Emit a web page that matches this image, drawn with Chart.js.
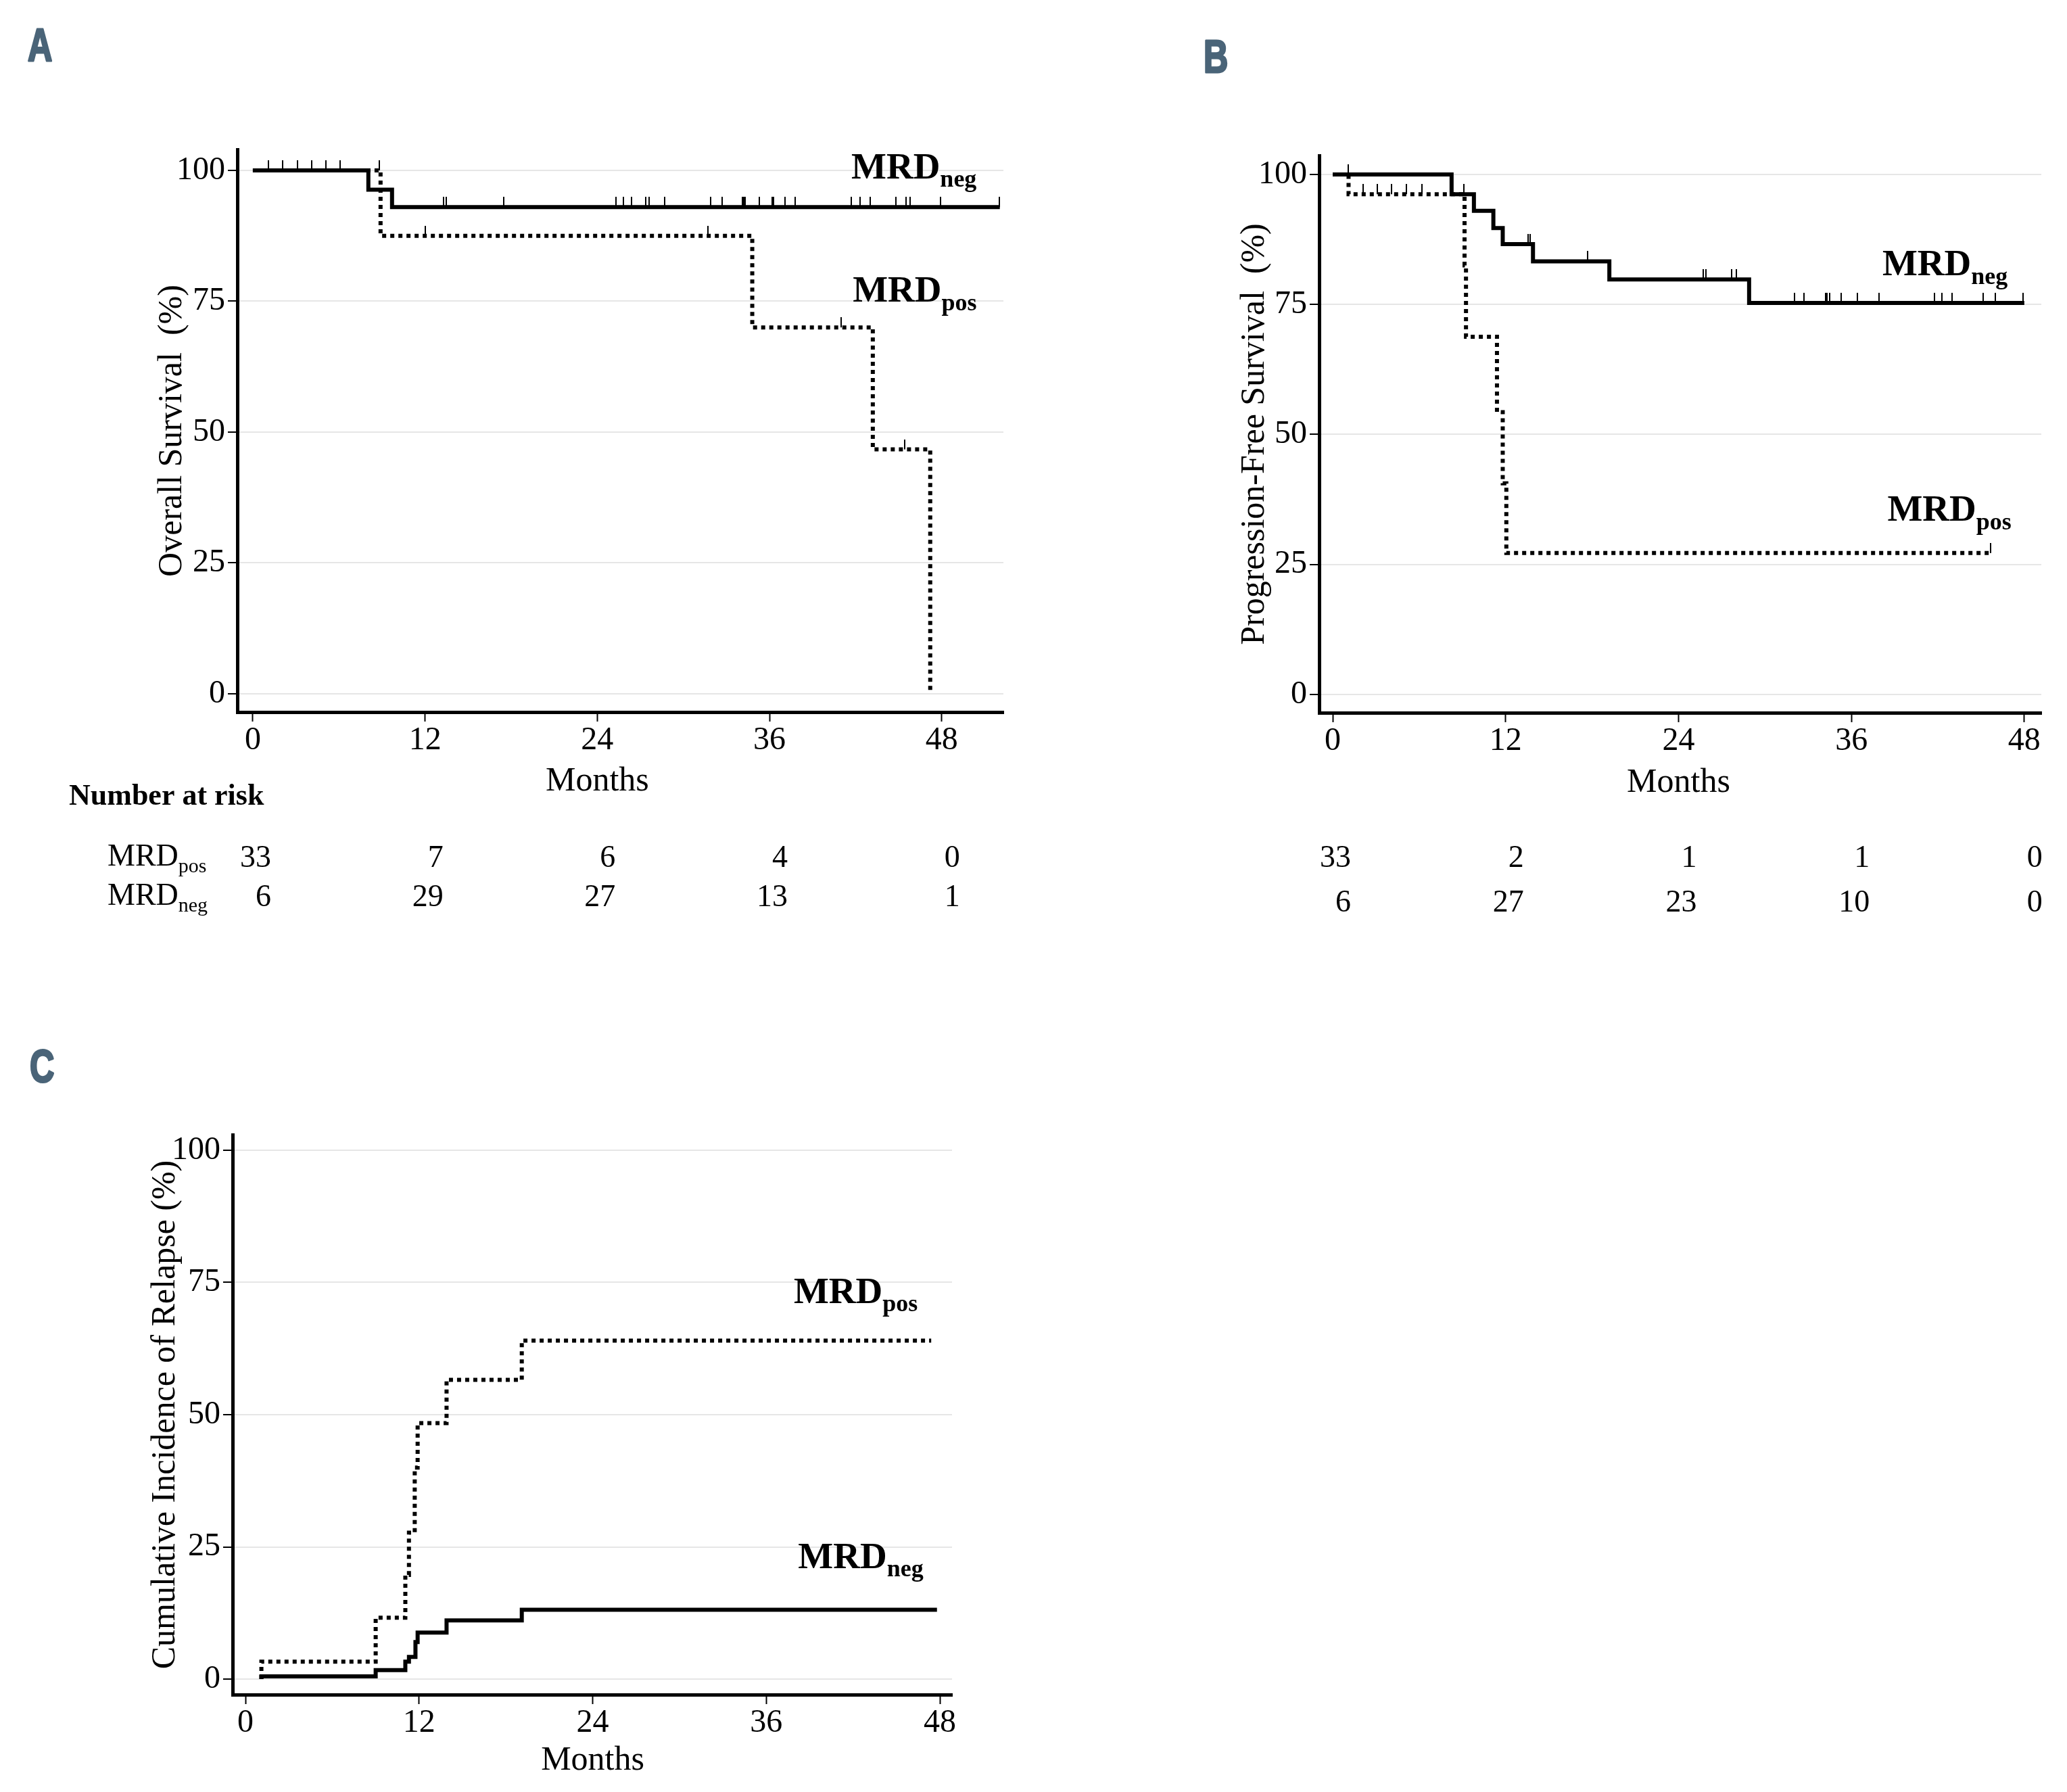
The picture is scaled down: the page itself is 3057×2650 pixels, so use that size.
<!DOCTYPE html>
<html>
<head>
<meta charset="utf-8">
<script src="https://cdn.jsdelivr.net/npm/chart.js@4.4.1/dist/chart.umd.min.js"></script>
<style>
  html, body { margin: 0; padding: 0; background: #fff; }
  body { width: 3057px; height: 2650px; position: relative; overflow: hidden; }
  canvas { position: absolute; }
</style>
</head>
<body>
<canvas id="chartA" width="1540" height="1420" style="left:0;top:0;width:1540px;height:1420px"></canvas>
<canvas id="chartB" width="1517" height="1420" style="left:1540px;top:0;width:1517px;height:1420px"></canvas>
<canvas id="chartC" width="1540" height="1170" style="left:0;top:1480px;width:1540px;height:1170px"></canvas>
<script>
// ---------- data ----------
const xTicks = [0, 12, 24, 36, 48];
const yTicks = [0, 25, 50, 75, 100];

// A: overall survival
const osNegTime = [0, 8.05, 9.7, 52.05];
const osNegPct = [100, 96.3, 93.0, 93.0];
const osNegCensor = [1.1, 2.1, 3.1, 4.1, 5.1, 6.1, 13.3, 13.5, 17.5, 25.3, 25.8, 26.4, 27.4, 27.6, 28.7,
  31.9, 32.7, 34.1, 34.2, 34.3, 35.3, 36.2, 36.3, 37.1, 37.8, 41.7, 42.3, 43.0, 44.8, 45.5, 45.8, 47.9, 52.0];
const osPosTime = [0, 8.9, 34.8, 43.2, 47.2];
const osPosPct = [100, 87.5, 70.0, 46.7, 0];
const osPosCensor = [8.8, 12.0, 31.7, 41.0, 45.4];
const osRiskPos = [33, 7, 6, 4, 0];
const osRiskNeg = [6, 29, 27, 13, 1];

// B: progression-free survival
const pfsNegTime = [0, 8.25, 9.8, 11.15, 11.8, 13.9, 19.2, 28.9, 48];
const pfsNegPct = [100, 96.2, 93.0, 89.7, 86.6, 83.3, 79.8, 75.3, 75.3];
const pfsNegCensor = [1.1, 13.55, 13.7, 17.7, 25.7, 25.9, 27.7, 28.0, 32.05, 32.7, 34.2, 34.3, 34.5,
  35.3, 36.4, 37.9, 41.75, 42.3, 43.0, 45.15, 45.97, 47.9];
const pfsPosTime = [0, 1.1, 9.15, 9.25, 11.4, 11.8, 12.05, 45.65];
const pfsPosPct = [100, 96.2, 82.5, 68.8, 54.3, 40.6, 27.2, 27.2];
const pfsPosCensor = [2.1, 3.1, 4.1, 5.1, 6.2, 9.1, 45.65];
const pfsRiskPos = [33, 2, 1, 1, 0];
const pfsRiskNeg = [6, 27, 23, 10, 0];

// C: cumulative incidence of relapse
const cirNegTime = [1.1, 1.1, 9.0, 11.05, 11.3, 11.75, 11.9, 13.9, 19.1, 47.8];
const cirNegPct = [0, 0.5, 1.7, 3.3, 4.2, 7.0, 8.8, 11.1, 13.1, 13.1];
const cirPosTime = [1.1, 1.1, 9.0, 11.05, 11.3, 11.7, 11.9, 13.9, 19.1, 47.4];
const cirPosPct = [0, 3.3, 11.6, 19.7, 27.7, 40.0, 48.4, 56.6, 64.0, 64.0];

// ---------- helpers ----------
const SERIF = "'Liberation Serif', 'Times New Roman', Times, serif";

function toPoints(times, pcts) {
  return times.map((t, i) => ({ x: t, y: pcts[i] }));
}

// level of a step curve at time t (used to sit censor marks on the curve)
function levelAt(times, pcts, t) {
  let v = pcts[0];
  times.forEach((tt, i) => { if (tt <= t) v = pcts[i]; });
  return v;
}

function censorPoints(censor, times, pcts) {
  return censor.map(t => ({ x: t, y: levelAt(times, pcts, t) }));
}

// small upward tick used as point style for censored observations
const tickMark = document.createElement('canvas');
tickMark.width = 2;
tickMark.height = 30;
const tctx = tickMark.getContext('2d');
tctx.fillStyle = '#000';
tctx.fillRect(0, 0, 2, 15);

function drawSub(ctx, main, sub, left, base, size, subSize, shift, bold) {
  const w8 = bold ? 'bold ' : '';
  ctx.textAlign = 'left';
  ctx.textBaseline = 'alphabetic';
  ctx.font = `${w8}${size}px ${SERIF}`;
  ctx.fillText(main, left, base);
  const w = ctx.measureText(main).width;
  ctx.font = `${w8}${subSize}px ${SERIF}`;
  ctx.fillText(sub, left + w, base + shift);
}

function decorPlugin(cfg) {
  return {
    id: 'decor' + cfg.letter,
    afterDraw(chart) {
      const { ctx, scales: { x, y } } = chart;
      ctx.save();

      // panel letter (condensed heavy sans)
      ctx.save();
      ctx.fillStyle = '#4a6478';
      ctx.strokeStyle = '#4a6478';
      ctx.lineWidth = 3;
      ctx.lineJoin = 'round';
      ctx.font = "bold 68px 'Liberation Sans', Arial, sans-serif";
      ctx.textBaseline = 'alphabetic';
      ctx.translate(cfg.letterX, cfg.letterY);
      ctx.scale(0.74, 1);
      ctx.fillText(cfg.letter, 0, 0);
      ctx.strokeText(cfg.letter, 0, 0);
      ctx.restore();

      // x axis title, centred on the 24-month tick
      ctx.fillStyle = '#000';
      ctx.font = `50px ${SERIF}`;
      ctx.textAlign = 'center';
      ctx.textBaseline = 'middle';
      ctx.fillText('Months', x.getPixelForValue(24), cfg.monthsY);

      // curve labels
      cfg.labels.forEach(l => {
        drawSub(ctx, 'MRD', l.sub, x.getPixelForValue(l.x), y.getPixelForValue(l.y), 55, 36, 12.5, true);
      });

      // number at risk table
      if (cfg.risk) {
        const r = cfg.risk;
        if (r.header) {
          ctx.textAlign = 'left';
          ctx.textBaseline = 'alphabetic';
          ctx.font = `bold 44px ${SERIF}`;
          ctx.fillText('Number at risk', 102, r.headerY);
          drawSub(ctx, 'MRD', 'pos', 159, r.rowY[0] - 2, 46, 30, 10, false);
          drawSub(ctx, 'MRD', 'neg', 159, r.rowY[1] - 2, 46, 30, 10, false);
        }
        ctx.font = `46px ${SERIF}`;
        ctx.textAlign = 'right';
        ctx.textBaseline = 'alphabetic';
        [r.pos, r.neg].forEach((row, k) => {
          row.forEach((n, i) => {
            ctx.fillText(String(n), x.getPixelForValue(xTicks[i]) + 27, r.rowY[k]);
          });
        });
      }
      ctx.restore();
    }
  };
}

function makeChart(id, cfg) {
  return new Chart(document.getElementById(id), {
    type: 'line',
    data: {
      datasets: [
        {
          data: toPoints(cfg.negTime, cfg.negPct),
          borderColor: '#000', borderWidth: 6, stepped: true, pointRadius: 0, fill: false
        },
        {
          data: toPoints(cfg.posTime, cfg.posPct),
          borderColor: '#000', borderWidth: 6, borderDash: [6, 6], stepped: true, pointRadius: 0, fill: false
        },
        {
          data: censorPoints(cfg.negCensor, cfg.negTime, cfg.negPct),
          showLine: false, pointStyle: tickMark, pointRadius: 3
        },
        {
          data: censorPoints(cfg.posCensor, cfg.posTime, cfg.posPct),
          showLine: false, pointStyle: tickMark, pointRadius: 3
        }
      ]
    },
    options: {
      responsive: false,
      animation: false,
      devicePixelRatio: 1,
      layout: { padding: { left: 0, top: cfg.top, right: cfg.right, bottom: 0 } },
      plugins: { legend: { display: false }, tooltip: { enabled: false } },
      scales: {
        x: {
          type: 'linear',
          min: cfg.xMin,
          max: cfg.xMax,
          afterBuildTicks: s => { s.ticks = xTicks.map(v => ({ value: v })); },
          afterFit: s => { s.height = cfg.xHeight; },
          grid: { drawOnChartArea: false, tickLength: 14, tickWidth: 2, tickColor: '#000' },
          border: { color: '#000', width: 5 },
          ticks: { color: '#000', font: { family: SERIF, size: 48 }, padding: 0, maxRotation: 0, autoSkip: false }
        },
        y: {
          type: 'linear',
          min: cfg.yMin,
          max: cfg.yMax,
          afterBuildTicks: s => { s.ticks = yTicks.map(v => ({ value: v })); },
          afterFit: s => { s.width = cfg.yWidth; },
          grid: { color: '#e6e6e6', lineWidth: 2, tickLength: 14, tickWidth: 2, tickColor: '#000' },
          border: { color: '#000', width: 5 },
          ticks: { color: '#000', font: { family: SERIF, size: 48 }, padding: 4, autoSkip: false },
          title: {
            display: true,
            text: cfg.yTitle,
            color: '#000',
            font: { family: SERIF, size: 50, lineHeight: 1.2 },
            padding: { top: cfg.yTitlePad, bottom: 0 }
          }
        }
      }
    },
    plugins: [decorPlugin(cfg)]
  });
}

// ---------- panels ----------
makeChart('chartA', {
  letter: 'A', letterX: 41, letterY: 90,
  negTime: osNegTime, negPct: osNegPct, negCensor: osNegCensor,
  posTime: osPosTime, posPct: osPosPct, posCensor: osPosCensor,
  top: 221, right: 56, yWidth: 351, xHeight: 367,
  xMin: -1.08, xMax: 52.3, yMin: -3.49, yMax: 104.0,
  yTitle: 'Overall Survival  (%)', yTitlePad: 225, monthsY: 1156,
  labels: [{ sub: 'neg', x: 41.7, y: 98.5 }, { sub: 'pos', x: 41.8, y: 74.9 }],
  risk: { header: true, headerY: 1190, rowY: [1282, 1340], pos: osRiskPos, neg: osRiskNeg }
});

makeChart('chartB', {
  letter: 'B', letterX: 240, letterY: 107,
  negTime: pfsNegTime, negPct: pfsNegPct, negCensor: pfsNegCensor,
  posTime: pfsPosTime, posPct: pfsPosPct, posCensor: pfsPosCensor,
  top: 230, right: 38, yWidth: 411, xHeight: 366,
  xMin: -0.94, xMax: 49.18, yMin: -3.51, yMax: 103.64,
  yTitle: 'Progression-Free Survival  (%)', yTitlePad: 286, monthsY: 1158,
  labels: [{ sub: 'neg', x: 38.15, y: 80.6 }, { sub: 'pos', x: 38.5, y: 33.4 }],
  risk: { header: false, rowY: [1282, 1348], pos: pfsRiskPos, neg: pfsRiskNeg }
});

makeChart('chartC', {
  letter: 'C', letterX: 44, letterY: 120,
  negTime: cirNegTime, negPct: cirNegPct, negCensor: [],
  posTime: cirPosTime, posPct: cirPosPct, posCensor: [],
  top: 198, right: 132, yWidth: 344, xHeight: 144,
  xMin: -0.89, xMax: 48.84, yMin: -2.94, yMax: 102.94,
  yTitle: 'Cumulative Incidence of Relapse (%)', yTitlePad: 215, monthsY: 1124,
  labels: [{ sub: 'pos', x: 37.9, y: 71.1 }, { sub: 'neg', x: 38.2, y: 21.0 }],
  risk: null
});
</script>
</body>
</html>
